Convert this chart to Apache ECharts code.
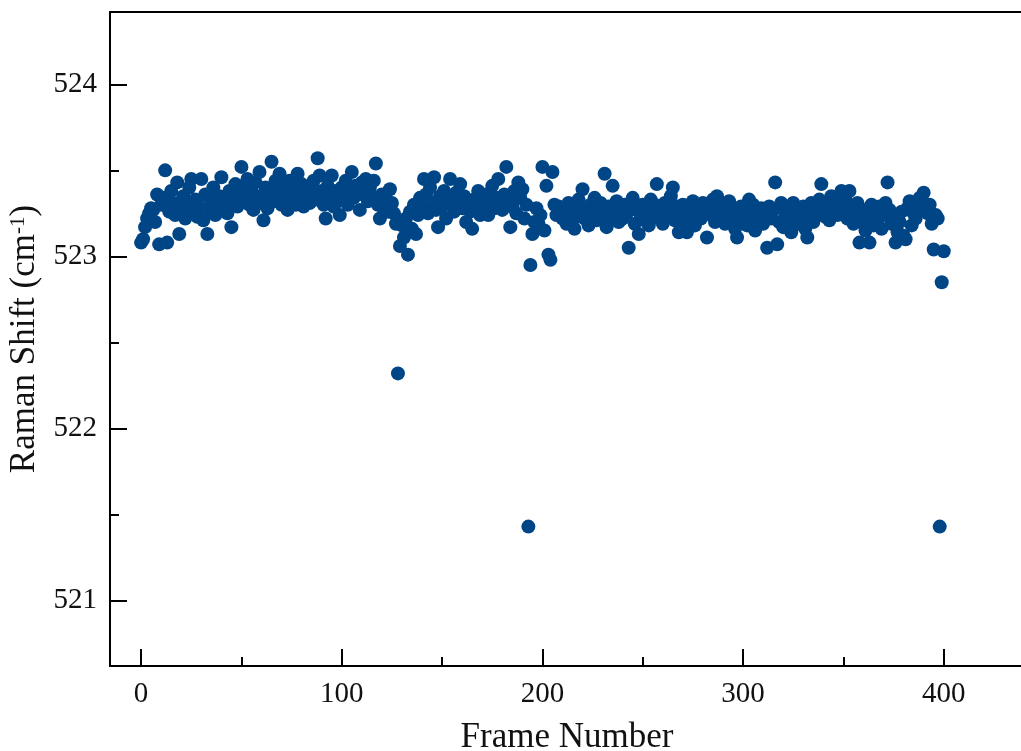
<!DOCTYPE html>
<html>
<head>
<meta charset="utf-8">
<script src="https://cdn.jsdelivr.net/npm/echarts@6/dist/echarts.min.js"></script>
<style>
  html, body { margin: 0; padding: 0; background: #fff; width: 100%; height: 100%; overflow: hidden; }
  #chart { width: 1021px; height: 751px; }
</style>
</head>
<body>
<div id="chart"></div>
<script>
// Raman peak position of each acquisition frame (cm^-1), frames 0..400
const ramanShift = [
  523.08, 523.10, 523.17, 523.22, 523.25, 523.28, 523.27, 523.20, 523.36, 523.07,
  523.30, 523.34, 523.50, 523.08, 523.26, 523.38, 523.31, 523.24, 523.43, 523.13,
  523.28, 523.35, 523.22, 523.30, 523.40, 523.45, 523.26, 523.33, 523.23, 523.29,
  523.45, 523.21, 523.36, 523.13, 523.27, 523.32, 523.40, 523.24, 523.30, 523.35,
  523.46, 523.28, 523.34, 523.25, 523.38, 523.17, 523.31, 523.42, 523.29, 523.36,
  523.52, 523.40, 523.33, 523.45, 523.30, 523.38, 523.27, 523.43, 523.35, 523.49,
  523.31, 523.21, 523.40, 523.28, 523.36, 523.55, 523.32, 523.44, 523.38, 523.48,
  523.30, 523.41, 523.35, 523.27, 523.44, 523.33, 523.39, 523.30, 523.48, 523.36,
  523.42, 523.29, 523.35, 523.40, 523.31, 523.37, 523.44, 523.33, 523.57, 523.47,
  523.38, 523.30, 523.22, 523.41, 523.35, 523.47, 523.29, 523.38, 523.32, 523.24,
  523.40, 523.35, 523.44, 523.30, 523.38, 523.49, 523.34, 523.41, 523.36, 523.27,
  523.43, 523.37, 523.45, 523.32, 523.40, 523.35, 523.44, 523.54, 523.30, 523.22,
  523.36, 523.28, 523.33, 523.26, 523.39, 523.31, 523.25, 523.19, 522.32, 523.06,
  523.18, 523.11, 523.22, 523.01, 523.26, 523.16, 523.30, 523.13, 523.24, 523.34,
  523.28, 523.45, 523.36, 523.25, 523.40, 523.31, 523.46, 523.27, 523.17, 523.35,
  523.29, 523.38, 523.22, 523.33, 523.45, 523.30, 523.26, 523.37, 523.31, 523.42,
  523.28, 523.35, 523.20, 523.31, 523.26, 523.16, 523.33, 523.29, 523.38, 523.24,
  523.32, 523.27, 523.36, 523.24, 523.30, 523.41, 523.28, 523.34, 523.45, 523.31,
  523.27, 523.36, 523.52, 523.33, 523.17, 523.29, 523.38, 523.25, 523.43, 523.34,
  523.39, 523.22, 523.30, 521.43, 522.95, 523.13, 523.20, 523.28, 523.19, 523.24,
  523.52, 523.15, 523.41, 523.01, 522.98, 523.49, 523.30, 523.24, 523.29, 523.28,
  523.22, 523.27, 523.19, 523.31, 523.25, 523.29, 523.16, 523.23, 523.33, 523.26,
  523.39, 523.22, 523.28, 523.18, 523.30, 523.25, 523.34, 523.21, 523.27, 523.31,
  523.24, 523.48, 523.17, 523.29, 523.23, 523.41, 523.26, 523.32, 523.20, 523.28,
  523.22, 523.30, 523.25, 523.05, 523.27, 523.34, 523.19, 523.29, 523.13, 523.24,
  523.30, 523.21, 523.27, 523.18, 523.33, 523.25, 523.30, 523.42, 523.22, 523.28,
  523.19, 523.31, 523.24, 523.27, 523.35, 523.40, 523.21, 523.29, 523.14, 523.26,
  523.30, 523.20, 523.14, 523.27, 523.23, 523.32, 523.18, 523.26, 523.29, 523.22,
  523.31, 523.25, 523.11, 523.28, 523.24, 523.33, 523.20, 523.35, 523.27, 523.23,
  523.30, 523.19, 523.26, 523.32, 523.22, 523.28, 523.16, 523.11, 523.25, 523.29,
  523.21, 523.27, 523.18, 523.33, 523.24, 523.30, 523.15, 523.26, 523.21, 523.28,
  523.19, 523.24, 523.05, 523.29, 523.22, 523.27, 523.43, 523.07, 523.20, 523.31,
  523.17, 523.25, 523.21, 523.28, 523.14, 523.31, 523.23, 523.19, 523.27, 523.22,
  523.29, 523.16, 523.11, 523.25, 523.31, 523.20, 523.27, 523.24, 523.33, 523.42,
  523.28, 523.23, 523.30, 523.21, 523.35, 523.26, 523.31, 523.24, 523.29, 523.38,
  523.27, 523.33, 523.22, 523.38, 523.29, 523.19, 523.25, 523.31, 523.08, 523.20,
  523.27, 523.15, 523.23, 523.08, 523.30, 523.18, 523.26, 523.21, 523.29, 523.16,
  523.24, 523.31, 523.43, 523.27, 523.19, 523.22, 523.08, 523.14, 523.20, 523.26,
  523.12, 523.10, 523.28, 523.32, 523.18, 523.25, 523.22, 523.29, 523.34, 523.27,
  523.37, 523.30, 523.25, 523.30, 523.19, 523.04, 523.24, 523.22, 521.43, 522.85,
  523.03
];

// Axis tick positions
const xMajorTicks = [0, 100, 200, 300, 400];
const xMinorTicks = [50, 150, 250, 350];
const yMajorTicks = [521, 522, 523, 524];
const yMinorTicks = [521.5, 522.5, 523.5];

const points = ramanShift.map((v, i) => [i, v]);

const FONT = 'Liberation Serif';
const X_MIN = -15.5, X_MAX = 440;
const Y_MIN = 520.62, Y_MAX = 524.42;

const lineStyle = { color: '#000', width: 2 };
// plot rectangle is fixed in pixels; the frame runs past the right edge of the canvas
const plotRect = { left: 110, right: -3, top: 12, bottom: 85, containLabel: false, outerBoundsMode: 'none' };

const chart = echarts.init(document.getElementById('chart'), null, { renderer: 'canvas', width: 1021, height: 751 });

chart.setOption({
  animation: false,
  backgroundColor: '#fff',
  // grid 0 carries the frame, labels and major ticks; grid 1 (same rectangle) the minor ticks
  grid: [Object.assign({}, plotRect), Object.assign({}, plotRect)],
  xAxis: [
    {
      gridIndex: 0, type: 'value', position: 'bottom', min: X_MIN, max: X_MAX,
      name: 'Frame Number', nameLocation: 'middle', nameGap: 54,
      nameTextStyle: { fontFamily: FONT, fontSize: 35, color: '#111' },
      axisLine: { show: true, onZero: false, lineStyle: lineStyle },
      axisTick: { show: true, inside: true, length: 17, lineStyle: lineStyle, customValues: xMajorTicks },
      axisLabel: { show: true, margin: 14, fontFamily: FONT, fontSize: 29, color: '#111', customValues: xMajorTicks },
      splitLine: { show: false }
    },
    {
      gridIndex: 0, type: 'value', position: 'top', min: X_MIN, max: X_MAX,
      axisLine: { show: true, onZero: false, lineStyle: lineStyle },
      axisTick: { show: false },
      axisLabel: { show: false },
      splitLine: { show: false }
    },
    {
      gridIndex: 1, type: 'value', position: 'bottom', min: X_MIN, max: X_MAX,
      axisLine: { show: false, onZero: false },
      axisTick: { show: true, inside: true, length: 9, lineStyle: lineStyle, customValues: xMinorTicks },
      axisLabel: { show: false },
      splitLine: { show: false }
    }
  ],
  yAxis: [
    {
      gridIndex: 0, type: 'value', position: 'left', min: Y_MIN, max: Y_MAX,
      name: '{a|Raman Shift (cm}{b|-1}{a|)}', nameLocation: 'middle', nameGap: 56,
      nameRotate: 90,
      nameTextStyle: {
        fontFamily: FONT, fontSize: 35, color: '#111',
        rich: {
          a: { fontFamily: FONT, fontSize: 35, color: '#111' },
          b: { fontFamily: FONT, fontSize: 21, color: '#111', verticalAlign: 'top', padding: [0, 0, 14, 0] }
        }
      },
      axisLine: { show: true, onZero: false, lineStyle: lineStyle },
      axisTick: { show: true, inside: true, length: 17, lineStyle: lineStyle, customValues: yMajorTicks },
      axisLabel: { show: true, margin: 13, fontFamily: FONT, fontSize: 29, color: '#111', customValues: yMajorTicks },
      splitLine: { show: false }
    },
    {
      gridIndex: 1, type: 'value', position: 'left', min: Y_MIN, max: Y_MAX,
      axisLine: { show: false, onZero: false },
      axisTick: { show: true, inside: true, length: 9, lineStyle: lineStyle, customValues: yMinorTicks },
      axisLabel: { show: false },
      splitLine: { show: false }
    }
  ],
  series: [
    {
      type: 'scatter',
      xAxisIndex: 0, yAxisIndex: 0,
      data: points,
      symbol: 'circle',
      symbolSize: 14,
      itemStyle: { color: '#004586', opacity: 1 },
      clip: false
    }
  ]
});
</script>
</body>
</html>
